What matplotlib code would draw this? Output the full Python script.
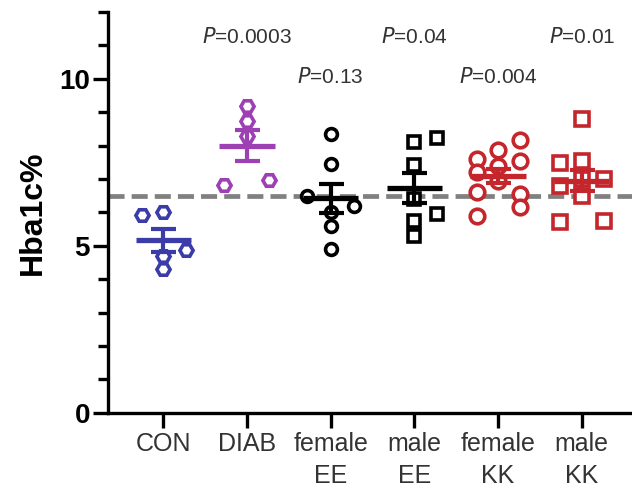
import numpy as np
import matplotlib.pyplot as plt

plt.rcParams['font.family'] = ['Liberation Sans', 'DejaVu Sans']

# groups and Hba1c values
groups = ['CON', 'DIAB', 'female\nEE', 'male\nEE', 'female\nKK', 'male\nKK']
con = [5.92, 6.0, 4.86, 4.7, 4.32]
diab = [9.19, 8.74, 8.28, 6.82, 6.97]
female_ee = [8.35, 7.45, 6.49, 6.19, 6.0, 5.59, 4.89]
male_ee = [8.1, 8.22, 7.42, 6.4, 5.95, 5.74, 5.28]
female_kk = [7.6, 7.2, 6.6, 5.9, 7.87, 7.38, 6.94, 8.17, 7.54, 6.55, 6.16]
male_kk = [8.8, 7.48, 7.54, 6.79, 7.0, 6.49, 7.0, 5.7, 5.74]

# horizontal scatter of each point as seen in the picture (category units)
con_dx = [-0.25, 0, 0.27, 0, 0]
diab_dx = [0, 0, 0, -0.27, 0.26]
female_ee_dx = [0, 0, -0.28, 0.28, 0, 0, 0]
male_ee_dx = [0, 0.27, 0, 0, 0.27, 0, 0]
female_kk_dx = [-0.25, -0.25, -0.25, -0.25, 0, 0, 0, 0.26, 0.26, 0.26, 0.26]
male_kk_dx = [0, -0.26, 0, -0.26, 0, 0, 0.27, -0.26, 0.27]

p_labels = ['', '0.0003', '0.13', '0.04', '0.004', '0.01']
p_heights = [0, 11.25, 10.05, 11.25, 10.05, 11.25]
ref_line = 6.5

values = [con, diab, female_ee, male_ee, female_kk, male_kk]
offsets = [con_dx, diab_dx, female_ee_dx, male_ee_dx, female_kk_dx, male_kk_dx]
colors = ['#3c3ca8', '#9c40b4', 'black', 'black', '#c4262b', '#c4262b']
markers = ['H', 'H', 'o', 's', 'o', 's']
msizes = [9.5, 9.5, 8.5, 9, 10.5, 10]

fig = plt.figure(figsize=(6.32, 4.98), dpi=100)
ax = fig.add_axes([0.171, 0.171, 0.829, 0.805])

ax.axhline(ref_line, color='#808080', lw=3.4, ls=(0, (3.4, 1.5)), zorder=1)

for i, (vals, dx) in enumerate(zip(values, offsets)):
    vals = np.array(vals)
    xs = i + np.array(dx)
    ax.plot(xs, vals, ls='none', marker=markers[i], ms=msizes[i],
            mfc='white', mec=colors[i], mew=2.6, zorder=2)
    m = vals.mean()
    sem = vals.std(ddof=1) / np.sqrt(len(vals))
    ax.plot([i - 0.33, i + 0.33], [m, m], color=colors[i], lw=3.8,
            solid_capstyle='butt', zorder=3)
    ax.errorbar(i, m, yerr=sem, fmt='none', ecolor=colors[i], elinewidth=3,
                capsize=9, capthick=3, zorder=3)
    if p_labels[i]:
        ax.text(i, p_heights[i], r'$\mathit{P}$=' + p_labels[i], ha='center',
                va='center', fontsize=15, color='#333333')

ax.set_xlim(-0.66, 5.6)
ax.set_ylim(0, 12)
ax.set_xticks(range(len(groups)))
ax.set_xticklabels(groups, fontsize=18, color='#333333', linespacing=1.4)
ax.set_yticks([0, 5, 10])
ax.set_yticks(range(0, 13), minor=True)
ax.set_yticklabels(['0', '5', '10'], fontsize=20, fontweight='bold')
ax.set_ylabel('Hba1c%', fontsize=23, fontweight='bold', labelpad=8)

for s in ['top', 'right']:
    ax.spines[s].set_visible(False)
for s in ['left', 'bottom']:
    ax.spines[s].set_linewidth(2.4)
ax.tick_params(axis='both', which='major', width=2.4, length=11)
ax.tick_params(axis='y', which='minor', width=2.4, length=7)
ax.tick_params(axis='y', which='major', pad=2)
ax.tick_params(axis='x', pad=3)

fig.savefig('out.png', dpi=100)
